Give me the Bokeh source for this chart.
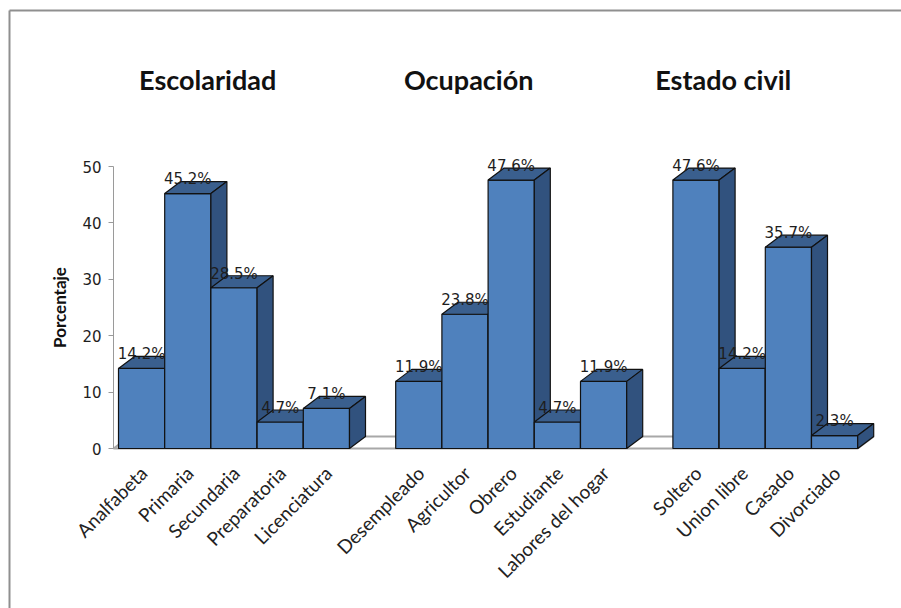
import math
from bokeh.plotting import figure
from bokeh.models import Range1d, LinearAxis, FixedTicker, ColumnDataSource
from bokeh.core.properties import value
from bokeh.embed import file_html
from bokeh.resources import INLINE

# ---------------- data ----------------
group_titles = ["Escolaridad", "Ocupación", "Estado civil"]
escolaridad_cats = ["Analfabeta", "Primaria", "Secundaria", "Preparatoria", "Licenciatura"]
escolaridad_vals = [14.2, 45.2, 28.5, 4.7, 7.1]
ocupacion_cats = ["Desempleado", "Agricultor", "Obrero", "Estudiante", "Labores del hogar"]
ocupacion_vals = [11.9, 23.8, 47.6, 4.7, 11.9]
civil_cats = ["Soltero", "Union libre", "Casado", "Divorciado"]
civil_vals = [47.6, 14.2, 35.7, 2.3]
y_ticks = [0, 10, 20, 30, 40, 50]
y_label = "Porcentaje"

# ---------------- layout constants (pixels) ----------------
W, H = 901, 608
PX_X0 = 118.0      # left edge of first slot
PX_SLOT = 46.2     # width of one category slot
PX_Y0 = 448.0      # pixel row of value 0
PX_UNIT = 5.64     # pixels per percentage unit
DX = 16.0 / PX_SLOT   # 3D depth offset (x, in slots)
DY = 12.0 / PX_UNIT   # 3D depth offset (y, in units)
TITLE_SHIFT = [-0.57, -0.92, -0.91]   # title offset from group centre (slots)


def px_x(px):
    return (px - PX_X0) / PX_SLOT


def px_y(py):
    return (PX_Y0 - py) / PX_UNIT


p = figure(width=W, height=H, output_backend="svg", toolbar_location=None,
           x_axis_type=None, y_axis_type=None,
           x_range=Range1d(px_x(0), px_x(W)), y_range=Range1d(px_y(H), px_y(0)),
           min_border=0, min_border_left=0, min_border_right=0,
           min_border_top=0, min_border_bottom=0)
p.outline_line_color = None
p.background_fill_color = "white"
p.border_fill_color = "white"
p.xgrid.visible = False
p.ygrid.visible = False

# ---------------- slot positions ----------------
groups = [(escolaridad_cats, escolaridad_vals),
          (ocupacion_cats, ocupacion_vals),
          (civil_cats, civil_vals)]
xs_all, vals_all, cats_all, group_centers = [], [], [], []
pos = 0
for cats, vals in groups:
    xs = [pos + k for k in range(len(cats))]
    xs_all += xs
    vals_all += vals
    cats_all += cats
    group_centers.append(pos + len(cats) / 2.0)
    pos += len(cats) + 1
n_slots = pos - 1

# ---------------- frame border ----------------
p.line([px_x(9), px_x(W + 5)], [px_y(10), px_y(10)], line_color="#8f8f8f", line_width=2)
p.line([px_x(9), px_x(9)], [px_y(10), px_y(H + 5)], line_color="#8f8f8f", line_width=2)

# ---------------- floor ----------------
xl = px_x(113)
xr = n_slots
p.patch([xl, xl + DX, xr + DX, xr], [0, DY, DY, 0],
        fill_color="white", line_color="#a8a8a8", line_width=2)

# ---------------- 3D bars ----------------
FRONT, TOP, SIDE = "#4F81BD", "#3A5F8E", "#31527E"
pxs, pys, pcol = [], [], []
for x, v in zip(xs_all, vals_all):
    pxs.append([x, x + 1, x + 1, x]); pys.append([0, 0, v, v]); pcol.append(FRONT)
    pxs.append([x, x + DX, x + 1 + DX, x + 1]); pys.append([v, v + DY, v + DY, v]); pcol.append(TOP)
    pxs.append([x + 1, x + 1 + DX, x + 1 + DX, x + 1]); pys.append([0, DY, v + DY, v]); pcol.append(SIDE)
bars = ColumnDataSource(dict(xs=pxs, ys=pys, c=pcol))
p.patches("xs", "ys", source=bars, fill_color="c", line_color="#111111", line_width=1.2)

# ---------------- data labels ----------------
lab = ColumnDataSource(dict(x=[x + 0.5 for x in xs_all],
                            y=[v + DY + 0.4 for v in vals_all],
                            t=[f"{v}%" for v in vals_all]))
p.text("x", "y", text="t", source=lab, text_align="center", text_baseline="alphabetic",
       text_font=value("DejaVu Sans"), text_font_size="15px", text_color="#1e1e1e")

# ---------------- category labels ----------------
cat_src = ColumnDataSource(dict(x=[x + 0.54 for x in xs_all],
                                y=[px_y(469)] * len(xs_all),
                                t=cats_all))
p.text("x", "y", text="t", source=cat_src, angle=math.pi / 4,
       text_align="right", text_baseline="middle",
       text_font=value("Lato"), text_font_size="19px", text_color="#222222")

# ---------------- group titles ----------------
title_src = ColumnDataSource(dict(x=[c + s for c, s in zip(group_centers, TITLE_SHIFT)],
                                  y=[px_y(79)] * len(group_centers),
                                  t=group_titles))
p.text("x", "y", text="t", source=title_src, text_align="center", text_baseline="middle",
       text_font=value("Lato"), text_font_size="27px", text_font_style="bold",
       text_color="#111111")

# ---------------- y axis ----------------
ax = LinearAxis(fixed_location=px_x(113), bounds=(0, 50),
                ticker=FixedTicker(ticks=y_ticks), axis_label=y_label)
ax.axis_line_color = "#9a9a9a"
ax.major_tick_line_color = "#9a9a9a"
ax.major_tick_out = 5
ax.major_tick_in = 0
ax.minor_tick_line_color = None
ax.major_label_text_font = "DejaVu Sans"
ax.major_label_text_font_size = "15px"
ax.major_label_text_color = "#1e1e1e"
ax.major_label_standoff = 7
ax.axis_label_text_font = "Lato"
ax.axis_label_text_font_style = "bold"
ax.axis_label_text_font_size = "17px"
ax.axis_label_text_color = "#111111"
ax.axis_label_standoff = 9
p.add_layout(ax, "left")

open("out.html", "w").write(file_html(p, INLINE))
